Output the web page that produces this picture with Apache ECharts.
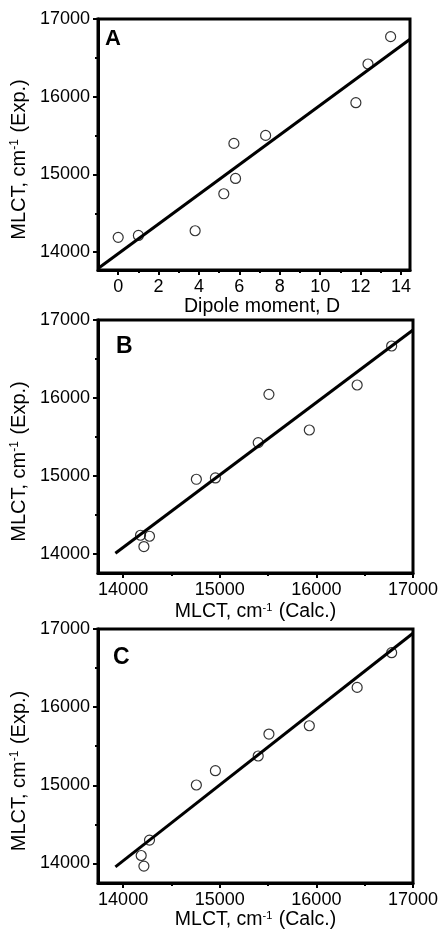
<!DOCTYPE html>
<html>
<head>
<meta charset="utf-8">
<script src="https://cdn.jsdelivr.net/npm/echarts@6/dist/echarts.min.js"></script>
<style>html,body{margin:0;padding:0;background:#fff;}#chart{width:441px;height:934px;}</style>
</head>
<body>
<div id="chart"></div>
<script>
// Panel A: dipole moment (D) vs experimental MLCT (cm-1)
var dipoleA = [0, 1.0, 3.81, 5.23, 5.73, 5.81, 7.30, 11.77, 12.37, 13.49];
var mlctExpA = [14190, 14215, 14275, 14751, 15399, 14948, 15502, 15923, 16421, 16773];
var fitA_x = [-1, 14.45];
var fitA_y = [13790, 16740];

// Panel B: calculated vs experimental MLCT
var mlctCalcB = [14180, 14215, 14273, 14758, 14955, 15398, 15509, 15927, 16422, 16779];
var mlctExpB = [14235, 14090, 14222, 14954, 14971, 15425, 16045, 15587, 16165, 16666];
var fitB_x = [13920, 17000];
var fitB_y = [14004, 16871];

// Panel C: calculated vs experimental MLCT
var mlctCalcC = [14187, 14215, 14273, 14758, 14955, 15398, 15509, 15927, 16422, 16779];
var mlctExpC = [14102, 13966, 14299, 15004, 15187, 15375, 15656, 15762, 16253, 16697];
var fitC_x = [13920, 17000];
var fitC_y = [13957, 16945];

// Tick values
var yMajor = [14000, 15000, 16000, 17000];
var yMinor = [14500, 15500, 16500];
var xMajorA = [0, 2, 4, 6, 8, 10, 12, 14];
var xMinorA = [1, 3, 5, 7, 9, 11, 13];
var xMajorBC = [14000, 15000, 16000, 17000];
var xMinorBC = [14500, 15500, 16500];

var panelLetters = ['A', 'B', 'C'];
var xTitles = ['Dipole moment, D', 'MLCT, cm{sup|-1} (Calc.)', 'MLCT, cm{sup|-1} (Calc.)'];
var yTitle = 'MLCT, cm{sup|-1} (Exp.)';

function zip(a, b) { return a.map(function (v, i) { return [v, b[i]]; }); }

var FONT = 'Liberation Sans, Arial, sans-serif';
var grids = [
  {left: 98, top: 19, width: 312, height: 251},
  {left: 98, top: 320, width: 315, height: 253},
  {left: 98, top: 629, width: 315, height: 254}
];
var xRanges = [[-1, 14.45], [13740, 17000], [13740, 17000]];
var yRanges = [[13770, 17000], [13750, 17000], [13750, 17000]];
var xNameGaps = [25, 29, 27];
var xNamePad = [[0, 0, 0, 16], [0, 0, 0, 0], [0, 0, 0, 0]];
var richSupX = {sup: {fontSize: 11, fontFamily: FONT, color: '#000', verticalAlign: 'top', padding: [0, 1, 0, 0]}};
var richSupY = {sup: {fontSize: 12, fontFamily: FONT, color: '#000', verticalAlign: 'top', padding: [0, 1, 0, 0]}};

var option = {
  animation: false,
  backgroundColor: '#fff',
  grid: grids.map(function (g) {
    return Object.assign({show: true, borderColor: '#000', borderWidth: 3, backgroundColor: 'transparent', containLabel: false, outerBoundsMode: 'none'}, g);
  }),
  xAxis: [],
  yAxis: [],
  series: [],
  graphic: []
};

var scatterData = [zip(dipoleA, mlctExpA), zip(mlctCalcB, mlctExpB), zip(mlctCalcC, mlctExpC)];
var fitData = [zip(fitA_x, fitA_y), zip(fitB_x, fitB_y), zip(fitC_x, fitC_y)];
var letterPos = [[105, 28], [116, 335], [113, 646]];
var letterSize = [22, 23, 23];

for (var i = 0; i < 3; i++) {
  var majX = i === 0 ? xMajorA : xMajorBC;
  var minX = i === 0 ? xMinorA : xMinorBC;
  option.xAxis.push({
    type: 'value', gridIndex: i, position: 'bottom', offset: 0, min: xRanges[i][0], max: xRanges[i][1],
    name: xTitles[i], nameLocation: 'middle', nameGap: xNameGaps[i],
    nameTextStyle: {fontSize: 19.5, fontFamily: FONT, color: '#000', rich: richSupX, padding: xNamePad[i]},
    axisLine: {show: true, onZero: false, lineStyle: {color: '#000', width: 3}},
    axisTick: {show: true, inside: false, length: 5, lineStyle: {color: '#000', width: 2}, customValues: majX},
    axisLabel: {show: true, margin: 8, fontSize: 18, fontFamily: FONT, color: '#000', customValues: majX,
      formatter: function (v) { return String(v); }},
    splitLine: {show: false}
  });
  option.xAxis.push({
    type: 'value', gridIndex: i, position: 'bottom', offset: 0, min: xRanges[i][0], max: xRanges[i][1],
    axisLine: {show: false, onZero: false},
    axisTick: {show: true, inside: false, length: 3, lineStyle: {color: '#000', width: 2}, customValues: minX},
    axisLabel: {show: false, customValues: minX},
    splitLine: {show: false}
  });
  option.yAxis.push({
    type: 'value', gridIndex: i, position: 'left', offset: 0, min: yRanges[i][0], max: yRanges[i][1],
    name: yTitle, nameLocation: 'middle', nameGap: 53,
    nameTextStyle: {fontSize: 20, fontFamily: FONT, color: '#000', rich: richSupY, padding: [0, 30, 0, 0]},
    axisLine: {show: true, onZero: false, lineStyle: {color: '#000', width: 3}},
    axisTick: {show: true, inside: false, length: 5, lineStyle: {color: '#000', width: 2}, customValues: yMajor},
    axisLabel: {show: true, margin: 8, fontSize: 18, fontFamily: FONT, color: '#000', customValues: yMajor,
      formatter: function (v) { return String(v); }},
    splitLine: {show: false}
  });
  option.yAxis.push({
    type: 'value', gridIndex: i, position: 'left', offset: 0, min: yRanges[i][0], max: yRanges[i][1],
    axisLine: {show: false, onZero: false},
    axisTick: {show: true, inside: false, length: 3, lineStyle: {color: '#000', width: 2}, customValues: yMinor},
    axisLabel: {show: false, customValues: yMinor},
    splitLine: {show: false}
  });
  option.series.push({
    type: 'scatter', xAxisIndex: 2 * i, yAxisIndex: 2 * i, data: scatterData[i],
    symbol: 'circle', symbolSize: 10, z: 2,
    itemStyle: {color: 'rgba(255,255,255,0)', borderColor: '#000', borderWidth: 1.2}
  });
  option.series.push({
    type: 'line', xAxisIndex: 2 * i, yAxisIndex: 2 * i, data: fitData[i],
    showSymbol: false, symbol: 'none', z: 3, silent: true,
    lineStyle: {color: '#000', width: 3}
  });
  option.graphic.push({
    type: 'text', left: letterPos[i][0], top: letterPos[i][1], z: 10,
    style: {text: panelLetters[i], fontSize: letterSize[i], fontWeight: 'bold', fontFamily: FONT, fill: '#000'}
  });
}

var chart = echarts.init(document.getElementById('chart'), null, {renderer: 'canvas'});
chart.setOption(option);
</script>
</body>
</html>
